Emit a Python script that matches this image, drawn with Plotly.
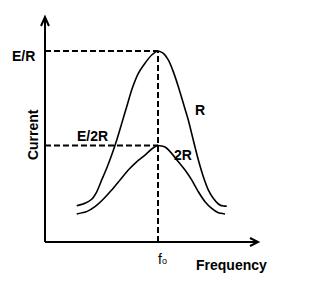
import plotly.graph_objects as go

# Resonance curves: frequency in units of f0, current in units of E/R
freq_R = [0.281, 0.354, 0.413, 0.458, 0.502, 0.546, 0.590, 0.635, 0.679, 0.723, 0.767, 0.826, 0.885, 0.944, 1.0,
          1.047, 1.091, 1.135, 1.180, 1.224, 1.268, 1.312, 1.357, 1.401, 1.446, 1.489, 1.534, 1.578, 1.608]
curr_R = [0.190, 0.203, 0.224, 0.263, 0.325, 0.386, 0.455, 0.534, 0.621, 0.708, 0.796, 0.883, 0.936, 0.979, 1.0,
          0.988, 0.953, 0.892, 0.813, 0.726, 0.639, 0.534, 0.429, 0.342, 0.272, 0.229, 0.199, 0.188, 0.188]
freq_2R = [0.281, 0.369, 0.442, 0.515, 0.590, 0.664, 0.737, 0.811, 0.885, 0.944, 1.0,
           1.062, 1.121, 1.180, 1.239, 1.298, 1.357, 1.416, 1.475, 1.534, 1.593]
curr_2R = [0.147, 0.159, 0.185, 0.224, 0.272, 0.325, 0.377, 0.420, 0.455, 0.487, 0.505,
           0.497, 0.464, 0.420, 0.377, 0.325, 0.263, 0.211, 0.176, 0.153, 0.147]

f0 = 1.0
peak_R = 1.0
peak_2R = 0.505
x_end = 1.885
y_end = 1.178

FONT = "Liberation Sans, Arial, sans-serif"

fig = go.Figure()
line_style = dict(color="black", width=1.6, shape="spline", smoothing=0.5)
fig.add_trace(go.Scatter(x=freq_R, y=curr_R, mode="lines", line=line_style, hoverinfo="skip"))
fig.add_trace(go.Scatter(x=freq_2R, y=curr_2R, mode="lines", line=line_style, hoverinfo="skip"))

dash = dict(color="black", width=2, dash="6px,3px")
shapes = [
    dict(type="line", x0=0, x1=f0, y0=peak_R, y1=peak_R, line=dash),
    dict(type="line", x0=0, x1=f0, y0=peak_2R, y1=peak_2R, line=dash),
    dict(type="line", x0=f0, x1=f0, y0=0, y1=peak_R, line=dash),
    # axes
    dict(type="line", x0=0, x1=0, y0=0, y1=y_end, line=dict(color="black", width=2)),
    dict(type="line", x0=0, x1=x_end, y0=0, y1=0, line=dict(color="black", width=2)),
    # arrowheads
    dict(type="path", path=f"M {-0.035} {y_end-0.047} L 0 {y_end} L {0.035} {y_end-0.047}",
         line=dict(color="black", width=2)),
    dict(type="path", path=f"M {x_end-0.071} {0.021} L {x_end} 0 L {x_end-0.071} {-0.021}",
         line=dict(color="black", width=2)),
]

def label(text, x, y, angle=0, size=14):
    return dict(text=text, x=x, y=y, xref="x", yref="y", showarrow=False, textangle=angle,
                font=dict(family=FONT, size=size, color="black"))

annotations = [
    label("<b>E/R</b>", -0.186, 0.974),
    label("<b>E/2R</b>", 0.416, 0.555),
    label("<b>Current</b>", -0.106, 0.560, angle=-90),
    label("<b>R</b>", 1.372, 0.691),
    label("<b>2R</b>", 1.221, 0.455),
    label("f<span style='font-size:9px'>o</span>", 1.044, -0.089, size=14),
    label("<b>Frequency</b>", 1.646, -0.120),
]

fig.update_layout(
    width=335, height=284, margin=dict(l=0, r=0, t=0, b=0),
    paper_bgcolor="white", plot_bgcolor="white", showlegend=False,
    shapes=shapes, annotations=annotations,
    xaxis=dict(range=[-0.398, 2.566], visible=False, fixedrange=True),
    yaxis=dict(range=[-0.2199, 1.267], visible=False, fixedrange=True),
)

fig.write_html("out.html", config={"displayModeBar": False})
